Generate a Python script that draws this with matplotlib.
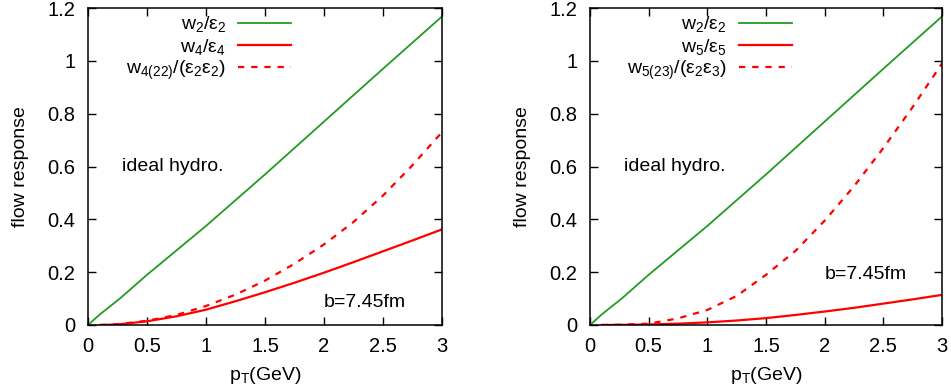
import matplotlib
matplotlib.use("Agg")
import matplotlib.pyplot as plt
from matplotlib.ticker import FormatStrFormatter

plt.rcParams['font.family'] = ['Liberation Sans', 'DejaVu Sans']
plt.rcParams['font.size'] = 14
plt.rcParams['mathtext.fontset'] = 'custom'
plt.rcParams['mathtext.rm'] = 'Liberation Sans'
plt.rcParams['mathtext.it'] = 'Liberation Sans'
plt.rcParams['lines.scale_dashes'] = False

# ---- data ----
pt_green = [0.0, 0.1, 0.27, 0.5, 1.0, 1.5, 2.0, 2.5, 3.0]
w2_green = [0.0, 0.04, 0.10, 0.19, 0.375, 0.57, 0.77, 0.97, 1.168]

pt_red = [0.1, 0.25, 0.5, 0.75, 1.0, 1.25, 1.5, 1.75, 2.0, 2.25, 2.5, 2.75, 3.0]
w4_solid = [0.0, 0.002, 0.014, 0.033, 0.058, 0.09, 0.124, 0.16, 0.198, 0.238, 0.279, 0.32, 0.362]
w4_dashed = [0.0, 0.003, 0.016, 0.038, 0.072, 0.115, 0.168, 0.232, 0.305, 0.39, 0.49, 0.605, 0.73]
w5_solid = [0.0, 0.0005, 0.002, 0.005, 0.01, 0.017, 0.026, 0.038, 0.051, 0.065, 0.081, 0.097, 0.114]
w5_dashed = [0.0, 0.001, 0.005, 0.025, 0.057, 0.11, 0.19, 0.28, 0.395, 0.525, 0.67, 0.825, 0.99]

left_labels = [r'w$_2$/ε$_2$', r'w$_4$/ε$_4$', r'w$_{4(22)}$/(ε$_2$ε$_2$)']
right_labels = [r'w$_2$/ε$_2$', r'w$_5$/ε$_5$', r'w$_{5(23)}$/(ε$_2$ε$_3$)']

xticks = [0, 0.5, 1, 1.5, 2, 2.5, 3]
yticks = [0, 0.2, 0.4, 0.6, 0.8, 1.0, 1.2]

GREEN = '#239a23'
RED = '#ff0000'

fig = plt.figure(figsize=(9.51, 3.92), dpi=100)
ax1 = fig.add_axes([88/951, 1-325/392, (442-88)/951, (325-8)/392])
ax2 = fig.add_axes([590/951, 1-325/392, (942-590)/951, (325-8)/392])


def draw(ax, solid, dashed, labels, b_y):
    ax.plot(pt_green, w2_green, color=GREEN, lw=1.3, label=labels[0])
    ax.plot(pt_red, solid, color=RED, lw=1.6, label=labels[1])
    ax.plot(pt_red, dashed, color=RED, lw=1.6, dashes=(4.5, 5.0), label=labels[2])
    ax.set_xlim(0, 3)
    ax.set_ylim(0, 1.2)
    ax.set_xticks(xticks)
    ax.set_yticks(yticks)
    ax.xaxis.set_major_formatter(FormatStrFormatter('%g'))
    ax.yaxis.set_major_formatter(FormatStrFormatter('%g'))
    ax.tick_params(axis='both', direction='in', top=True, right=True, length=6, width=1,
                   labelsize=14.5)
    ax.tick_params(axis='x', pad=9)
    ax.tick_params(axis='y', pad=9)
    for s in ax.spines.values():
        s.set_linewidth(1.1)
    ax.set_xlabel(r'p$_T$(GeV)', fontsize=14, labelpad=6)
    ax.set_ylabel('flow response', fontsize=14, labelpad=13)
    ax.legend(loc='upper right', bbox_to_anchor=(0.624, 1.035), frameon=False,
              markerfirst=False, alignment='right', handlelength=2.75,
              handletextpad=0.6, labelspacing=0.12, fontsize=14)
    ax.text(0.29, 0.6, 'ideal hydro.', fontsize=14, va='center', ha='left')
    ax.text(2.0, b_y, 'b=7.45fm', fontsize=14, va='center', ha='left')


draw(ax1, w4_solid, w4_dashed, left_labels, 0.087)
draw(ax2, w5_solid, w5_dashed, right_labels, 0.19)

fig.savefig('out.png', dpi=100)
